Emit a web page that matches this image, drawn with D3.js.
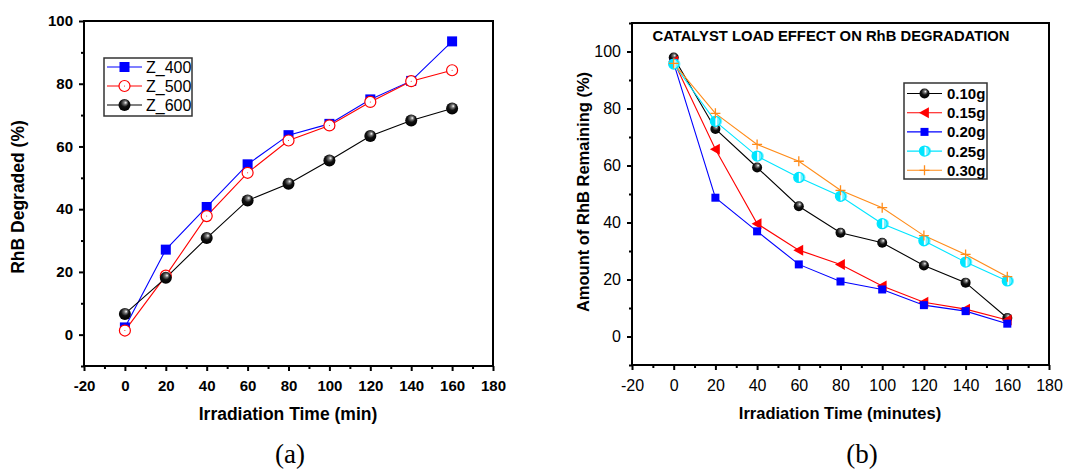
<!DOCTYPE html>
<html>
<head>
<meta charset="utf-8">
<script src="https://cdn.jsdelivr.net/npm/d3@7"></script>
<style>
  body { margin: 0; background: #fff; }
  svg { display: block; }
  text { font-family: "Liberation Sans", Arial, sans-serif; }
</style>
</head>
<body>
<svg id="drawing_region"></svg>
<script>
// time points (min)
const times = [0, 20, 40, 60, 80, 100, 120, 140, 160];

// panel (a): RhB degraded (%)
const z400 = [2.3, 27.1, 40.7, 54.3, 63.6, 67.2, 75.0, 80.9, 93.5];
const z500 = [1.3, 18.8, 37.8, 51.6, 61.9, 66.7, 74.2, 80.8, 84.3];
const z600 = [6.6, 18.1, 30.8, 42.8, 48.1, 55.5, 63.3, 68.3, 72.1];
const namesA = ["Z_400", "Z_500", "Z_600"];

// panel (b): amount of RhB remaining (%)
const g010 = [97.9, 72.8, 59.3, 45.7, 36.4, 32.9, 24.9, 18.9, 6.5];
const g015 = [96.6, 65.7, 39.6, 30.3, 25.3, 17.7, 12.0, 9.6, 5.8];
const g020 = [95.9, 48.7, 36.9, 25.3, 19.3, 16.5, 11.0, 8.9, 4.5];
const g025 = [95.6, 75.5, 63.3, 55.8, 49.2, 39.6, 33.6, 26.1, 19.5];
const g030 = [95.8, 78.3, 67.4, 61.5, 51.3, 45.2, 35.4, 28.8, 21.0];
const namesB = ["0.10g", "0.15g", "0.20g", "0.25g", "0.30g"];

const xTicks = [-20, 0, 20, 40, 60, 80, 100, 120, 140, 160, 180];

const svg = d3.select('#drawing_region')
    .attr('width', 1071)
    .attr('height', 469);

// shaded ball gradient
const defs = svg.append('defs');
const grad = defs.append('radialGradient')
    .attr('id', 'ball')
    .attr('cx', '0.4').attr('cy', '0.35').attr('r', '0.65')
    .attr('fx', '0.62').attr('fy', '0.3');
grad.append('stop').attr('offset', '0%').attr('stop-color', '#ffffff');
grad.append('stop').attr('offset', '20%').attr('stop-color', '#7a7a7a');
grad.append('stop').attr('offset', '50%').attr('stop-color', '#111111');
grad.append('stop').attr('offset', '100%').attr('stop-color', '#000000');

function drawMarker(g, type, color, size) {
    if (type === 'square') {
        g.append('rect')
            .attr('x', -size / 2).attr('y', -size / 2)
            .attr('width', size).attr('height', size)
            .attr('fill', color);
    } else if (type === 'open') {
        g.append('circle').attr('r', size / 2)
            .attr('fill', '#fff').attr('stroke', color).attr('stroke-width', 1.2);
        g.append('circle').attr('r', 0.5).attr('fill', color);
    } else if (type === 'ball') {
        g.append('circle').attr('r', size / 2).attr('fill', 'url(#ball)');
    } else if (type === 'tri') {
        const s = size / 2;
        g.append('path')
            .attr('d', `M${-s},0L${s * 0.8},${-s}L${s * 0.8},${s}Z`)
            .attr('fill', color);
    } else if (type === 'half') {
        const r = size / 2;
        g.append('circle').attr('r', r).attr('fill', '#fff')
            .attr('stroke', color).attr('stroke-width', 1.3);
        g.append('path')
            .attr('d', `M0,${-r}A${r},${r} 0 0 0 0,${r}Z`)
            .attr('fill', color);
        g.append('path')
            .attr('d', `M${r * 0.35},${-r}A${r},${r} 0 0 1 ${r * 0.35},${r}Z`)
            .attr('fill', color).attr('opacity', 0.55);
    } else if (type === 'plus') {
        const s = size / 2;
        g.append('path')
            .attr('d', `M${-s},0H${s}M0,${-s}V${s}`)
            .attr('stroke', color).attr('stroke-width', 1.3);
    }
}

function drawPanel(cfg) {
    const x = d3.scaleLinear().domain([-20, 180]).range([cfg.left, cfg.right]);
    const y = d3.scaleLinear().domain(cfg.yDomain).range([cfg.bottom, cfg.top]);
    const g = svg.append('g');
    const fmt = d => String(d);   // plain hyphen minus like the original

    // frame
    g.append('rect')
        .attr('x', cfg.left).attr('y', cfg.top)
        .attr('width', cfg.right - cfg.left).attr('height', cfg.bottom - cfg.top)
        .attr('fill', 'none').attr('stroke', '#000').attr('stroke-width', 2);

    // axes
    const xAxis = g.append('g')
        .attr('transform', `translate(0,${cfg.bottom})`)
        .call(d3.axisBottom(x).tickValues(xTicks).tickSize(5).tickPadding(6).tickFormat(fmt));
    g.append('g')
        .attr('transform', `translate(0,${cfg.bottom})`)
        .call(d3.axisBottom(x).tickValues(d3.range(-10, 180, 20)).tickSize(3).tickFormat(''));
    const yAxis = g.append('g')
        .attr('transform', `translate(${cfg.left},0)`)
        .call(d3.axisLeft(y).tickValues(cfg.yTicks).tickSize(5).tickPadding(6).tickFormat(fmt));
    g.append('g')
        .attr('transform', `translate(${cfg.left},0)`)
        .call(d3.axisLeft(y).tickValues(cfg.yMinor).tickSize(3).tickFormat(''));

    g.selectAll('.domain').remove();
    g.selectAll('.tick line').attr('stroke', '#000').attr('stroke-width', 2);
    [xAxis, yAxis].forEach(a => a.selectAll('text')
        .attr('fill', '#000')
        .style('font-family', '"Liberation Sans", Arial, sans-serif')
        .style('font-size', cfg.tickFont + 'px')
        .style('font-weight', cfg.tickWeight));
    xAxis.selectAll('text').attr('dy', '0.95em');

    // axis titles
    g.append('text')
        .attr('x', cfg.xLabelX).attr('y', cfg.xLabelY)
        .attr('text-anchor', 'middle')
        .style('font-size', cfg.labelFont + 'px').style('font-weight', 'bold')
        .text(cfg.xLabel);
    g.append('text')
        .attr('transform', `translate(${cfg.yLabelX},${cfg.yLabelY}) rotate(-90)`)
        .attr('text-anchor', 'middle')
        .style('font-size', cfg.labelFont + 'px').style('font-weight', 'bold')
        .text(cfg.yLabel);

    // series
    const line = d3.line().x((d, i) => x(times[i])).y(d => y(d));
    cfg.series.forEach(s => {
        g.append('path')
            .datum(s.values)
            .attr('d', line)
            .attr('fill', 'none')
            .attr('stroke', s.color)
            .attr('stroke-width', 1.1);
    });
    cfg.series.forEach(s => {
        s.values.forEach((v, i) => {
            const m = g.append('g').attr('transform', `translate(${x(times[i])},${y(v)})`);
            drawMarker(m, s.marker, s.color, s.size);
        });
    });

    // legend
    const L = cfg.legend;
    g.append('rect')
        .attr('x', L.x).attr('y', L.y).attr('width', L.w).attr('height', L.h)
        .attr('fill', '#fff').attr('stroke', '#333').attr('stroke-width', 1.5);
    cfg.series.forEach((s, i) => {
        const cy = L.y + L.first + i * L.step;
        g.append('line')
            .attr('x1', L.x + 3).attr('x2', L.x + L.lineW)
            .attr('y1', cy).attr('y2', cy)
            .attr('stroke', s.color).attr('stroke-width', 1.1);
        const m = g.append('g').attr('transform', `translate(${L.x + 3 + (L.lineW - 3) / 2},${cy})`);
        drawMarker(m, s.marker, s.color, s.size);
        g.append('text')
            .attr('x', L.x + L.textX).attr('y', cy).attr('dy', '0.36em')
            .style('font-size', L.font + 'px').style('font-weight', L.weight)
            .text(s.name);
    });
}

drawPanel({
    left: 84, right: 493, top: 21, bottom: 366,
    yDomain: [-10, 100],
    yTicks: [0, 20, 40, 60, 80, 100],
    yMinor: [-10, 10, 30, 50, 70, 90],
    tickFont: 15, tickWeight: 'bold', labelFont: 17.5,
    xLabel: 'Irradiation Time (min)', xLabelX: 288, xLabelY: 420,
    yLabel: 'RhB Degraded (%)', yLabelX: 24, yLabelY: 197,
    series: [
        { name: namesA[0], values: z400, color: '#0000ff', marker: 'square', size: 10 },
        { name: namesA[1], values: z500, color: '#ff0000', marker: 'open', size: 11 },
        { name: namesA[2], values: z600, color: '#000000', marker: 'ball', size: 12 }
    ],
    legend: { x: 104, y: 58, w: 88, h: 58, first: 9, step: 19, lineW: 38, textX: 42, font: 16, weight: 'normal' }
});

drawPanel({
    left: 632, right: 1049, top: 23, bottom: 365,
    yDomain: [-10, 110],
    yTicks: [0, 20, 40, 60, 80, 100],
    yMinor: [-10, 10, 30, 50, 70, 90, 110],
    tickFont: 16, tickWeight: 'normal', labelFont: 16.5,
    xLabel: 'Irradiation Time (minutes)', xLabelX: 840, xLabelY: 419,
    yLabel: 'Amount of RhB Remaining (%)', yLabelX: 589, yLabelY: 192,
    series: [
        { name: namesB[0], values: g010, color: '#000000', marker: 'ball', size: 10 },
        { name: namesB[1], values: g015, color: '#ff0000', marker: 'tri', size: 11 },
        { name: namesB[2], values: g020, color: '#0000ff', marker: 'square', size: 8 },
        { name: namesB[3], values: g025, color: '#00e5ff', marker: 'half', size: 10 },
        { name: namesB[4], values: g030, color: '#ff8c1a', marker: 'plus', size: 10 }
    ],
    legend: { x: 904, y: 83, w: 83, h: 96, first: 10.5, step: 19.2, lineW: 38, textX: 43, font: 15, weight: 'bold' }
});

// panel (b) title
svg.append('text')
    .attr('x', 831).attr('y', 41)
    .attr('text-anchor', 'middle')
    .style('font-size', '14.8px').style('font-weight', 'bold')
    .text('CATALYST LOAD EFFECT ON RhB DEGRADATION');

// captions
svg.selectAll('.caption')
    .data([{ t: '(a)', x: 290 }, { t: '(b)', x: 862 }])
    .enter()
    .append('text')
    .attr('class', 'caption')
    .attr('x', d => d.x).attr('y', 463)
    .attr('text-anchor', 'middle')
    .style('font-family', '"Liberation Serif", "Times New Roman", serif')
    .style('font-size', '27px')
    .text(d => d.t);
</script>
</body>
</html>
